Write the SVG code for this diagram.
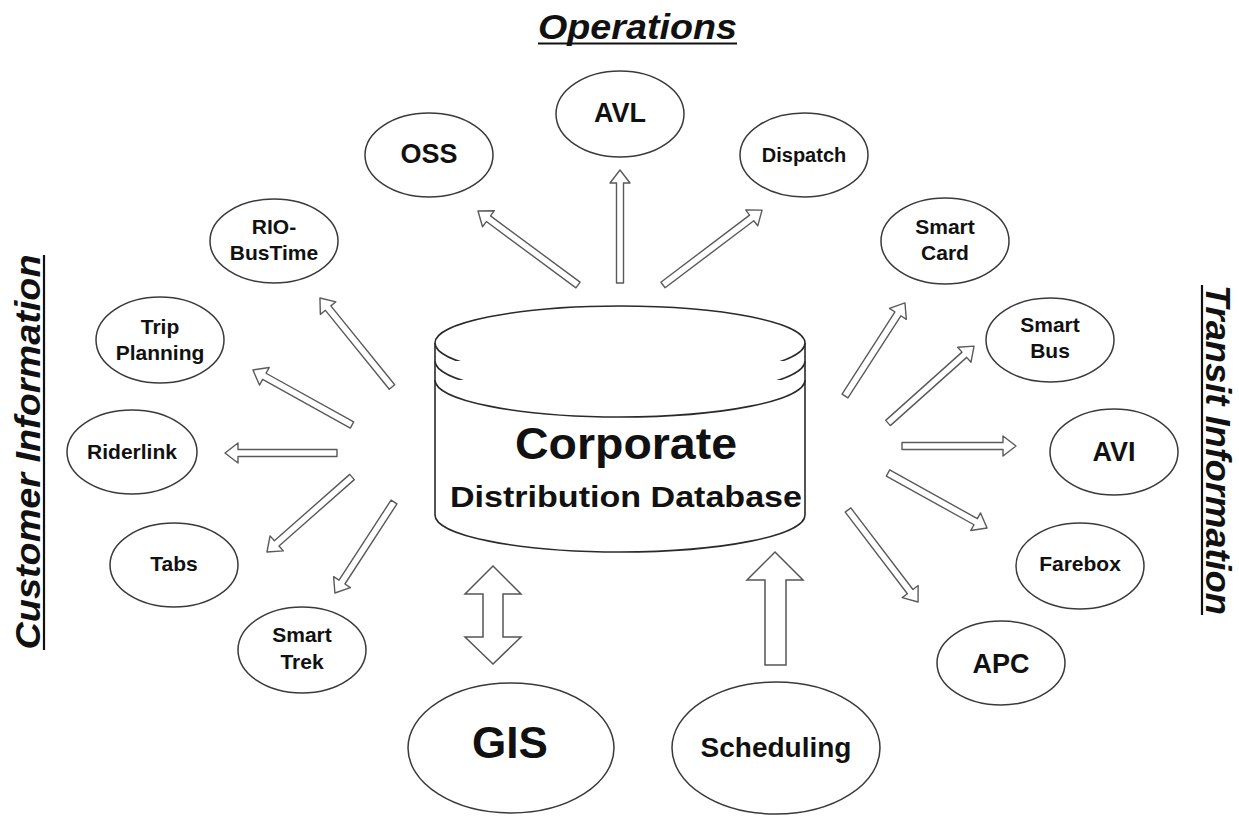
<svg xmlns="http://www.w3.org/2000/svg" width="1239" height="817" viewBox="0 0 1239 817">
  <style>
    .node { fill: #fff; stroke: #3a3a3a; stroke-width: 1.5; }
    .db { fill: #fff; stroke: #2a2a2a; stroke-width: 1.6; }
    .arrow { fill: #fff; stroke: #5a5a5a; stroke-width: 1.4; stroke-linejoin: round; }
    .big { fill: #fff; stroke: #555; stroke-width: 1.5; }
    text { font-family: "Liberation Sans", Arial, sans-serif; font-weight: bold; fill: #111; text-anchor: middle; }
    .s { font-size: 21px; }
    .m { font-size: 27px; }
    .head { font-size: 35px; font-style: italic; }
    .ul { stroke: #111; stroke-width: 2.2; }
  </style>

  <rect width="1239" height="817" fill="#fff"/>

  <!-- section headings -->
  <g id="headings">
    <text class="head" x="637.5" y="39" textLength="199" lengthAdjust="spacingAndGlyphs">Operations</text>
    <line class="ul" x1="538" y1="43.5" x2="737" y2="43.5"/>
    <text class="head" transform="translate(40,452) rotate(-90)" x="0" y="0" textLength="395" lengthAdjust="spacingAndGlyphs">Customer Information</text>
    <line class="ul" x1="44" y1="255" x2="44" y2="650"/>
    <text class="head" transform="translate(1206,450) rotate(90)" x="0" y="0" textLength="330" lengthAdjust="spacingAndGlyphs">Transit Information</text>
    <line class="ul" x1="1202" y1="285" x2="1202" y2="615"/>
  </g>

  <!-- connectors: hollow block arrows drawn tail-at-origin along +x -->
  <g id="connectors">
    <path class="arrow" transform="translate(578,285) rotate(-143.5)" d="M0,-3.5 H111.4 V-10 L124.4,0 L111.4,10 V3.5 H0 Z"/>
    <path class="arrow" transform="translate(620,283) rotate(-90)" d="M0,-3.5 H100 V-10 L113,0 L100,10 V3.5 H0 Z"/>
    <path class="arrow" transform="translate(663,285) rotate(-37.1)" d="M0,-3.5 H111.2 V-10 L124.2,0 L111.2,10 V3.5 H0 Z"/>
    <path class="arrow" transform="translate(392,387) rotate(-129)" d="M0,-3.5 H101.5 V-10 L114.5,0 L101.5,10 V3.5 H0 Z"/>
    <path class="arrow" transform="translate(352,425) rotate(-150.95)" d="M0,-3.5 H100.3 V-10 L113.3,0 L100.3,10 V3.5 H0 Z"/>
    <path class="arrow" transform="translate(337,453) rotate(180)" d="M0,-3.5 H99 V-10 L112,0 L99,10 V3.5 H0 Z"/>
    <path class="arrow" transform="translate(352,477) rotate(138.6)" d="M0,-3.5 H100.4 V-10 L113.4,0 L100.4,10 V3.5 H0 Z"/>
    <path class="arrow" transform="translate(394,502) rotate(123)" d="M0,-3.5 H95.5 V-10 L108.5,0 L95.5,10 V3.5 H0 Z"/>
    <path class="arrow" transform="translate(845,396) rotate(-57.2)" d="M0,-3.5 H97.7 V-10 L110.7,0 L97.7,10 V3.5 H0 Z"/>
    <path class="arrow" transform="translate(888,423) rotate(-41.8)" d="M0,-3.5 H102.4 V-10 L115.4,0 L102.4,10 V3.5 H0 Z"/>
    <path class="arrow" transform="translate(902,446)" d="M0,-3.5 H101 V-10 L114,0 L101,10 V3.5 H0 Z"/>
    <path class="arrow" transform="translate(888,473) rotate(29.05)" d="M0,-3.5 H100.3 V-10 L113.3,0 L100.3,10 V3.5 H0 Z"/>
    <path class="arrow" transform="translate(848,510) rotate(52.7)" d="M0,-3.5 H102.6 V-10 L115.6,0 L102.6,10 V3.5 H0 Z"/>
    <!-- GIS exchange and Scheduling feed -->
    <path class="big" d="M493,566 L521,594 H503 V637 H521 L493,664 L465,637 H483 V594 H465 Z"/>
    <path class="big" d="M775,552 L803,580 H786 V665 H765 V580 H747 Z"/>
  </g>

  <!-- central database -->
  <g id="database">
    <path class="db" d="M435,343 V515 A185,37 0 0 0 805,515 V343"/>
    <ellipse class="db" cx="620" cy="343" rx="185" ry="37"/>
    <path class="db" fill="none" d="M435,361 A185,37 0 0 0 805,361"/>
    <path class="db" fill="none" d="M435,380 A185,37 0 0 0 805,380"/>
    <text x="626" y="459" style="font-size:44px" textLength="222" lengthAdjust="spacingAndGlyphs">Corporate</text>
    <text x="626" y="507" style="font-size:30px" textLength="352" lengthAdjust="spacingAndGlyphs">Distribution Database</text>
  </g>

  <!-- operations -->
  <g id="oss"><ellipse class="node" cx="429" cy="155" rx="64" ry="42"/><text class="m" x="429" y="163">OSS</text></g>
  <g id="avl"><ellipse class="node" cx="620" cy="114" rx="64" ry="43"/><text class="m" x="620" y="122">AVL</text></g>
  <g id="dispatch"><ellipse class="node" cx="804" cy="155" rx="64" ry="42"/><text class="s" x="804" y="162" style="font-size:20px">Dispatch</text></g>

  <!-- customer information -->
  <g id="rio-bustime"><ellipse class="node" cx="274" cy="241" rx="64" ry="42"/><text class="s" x="274" y="234">RIO-</text><text class="s" x="274" y="260">BusTime</text></g>
  <g id="trip-planning"><ellipse class="node" cx="160" cy="340" rx="64" ry="43"/><text class="s" x="160" y="334">Trip</text><text class="s" x="160" y="360">Planning</text></g>
  <g id="riderlink"><ellipse class="node" cx="132" cy="452" rx="65" ry="42"/><text class="s" x="132" y="459">Riderlink</text></g>
  <g id="tabs"><ellipse class="node" cx="174" cy="565" rx="64" ry="42"/><text class="s" x="174" y="571">Tabs</text></g>
  <g id="smart-trek"><ellipse class="node" cx="302" cy="650" rx="64" ry="43"/><text class="s" x="302" y="642">Smart</text><text class="s" x="302" y="669">Trek</text></g>

  <!-- transit information -->
  <g id="smart-card"><ellipse class="node" cx="945" cy="241" rx="64" ry="43"/><text class="s" x="945" y="234">Smart</text><text class="s" x="945" y="260">Card</text></g>
  <g id="smart-bus"><ellipse class="node" cx="1050" cy="340" rx="64" ry="42"/><text class="s" x="1050" y="332">Smart</text><text class="s" x="1050" y="358">Bus</text></g>
  <g id="avi"><ellipse class="node" cx="1114" cy="452" rx="64" ry="43"/><text class="m" x="1114" y="461">AVI</text></g>
  <g id="farebox"><ellipse class="node" cx="1080" cy="566" rx="64" ry="43"/><text class="s" x="1080" y="571">Farebox</text></g>
  <g id="apc"><ellipse class="node" cx="1001" cy="663" rx="64" ry="42"/><text class="m" x="1001" y="673">APC</text></g>

  <!-- source systems -->
  <g id="gis"><ellipse class="node" cx="511" cy="748" rx="103" ry="65"/><text x="510" y="758" style="font-size:44px">GIS</text></g>
  <g id="scheduling"><ellipse class="node" cx="776" cy="748" rx="104" ry="66"/><text x="776" y="757" style="font-size:28px">Scheduling</text></g>
</svg>
